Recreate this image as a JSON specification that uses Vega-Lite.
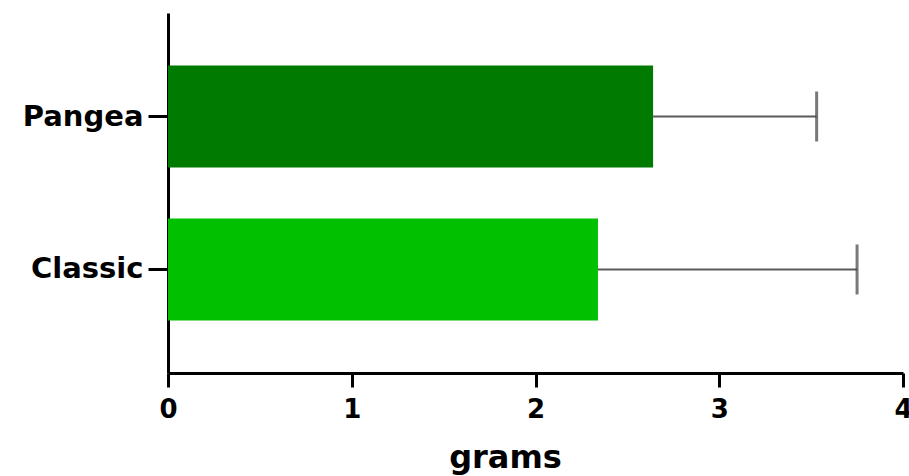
{
  "$schema": "https://vega.github.io/schema/vega-lite/v6.json",
  "width": 735,
  "height": 360,
  "autosize": "none",
  "padding": {"left": 168, "top": 13, "right": 6, "bottom": 103},
  "background": "white",
  "config": {
    "view": {"stroke": null},
    "axis": {
      "domainColor": "black",
      "domainWidth": 3,
      "tickColor": "black",
      "tickWidth": 3,
      "grid": false,
      "labelFont": "DejaVu Sans",
      "labelFontWeight": "bold",
      "labelColor": "black",
      "titleFont": "DejaVu Sans",
      "titleFontWeight": "bold",
      "titleColor": "black"
    }
  },
  "data": {
    "values": [
      {"group": "Pangea", "mean": 2.64, "upper": 3.53},
      {"group": "Classic", "mean": 2.34, "upper": 3.75}
    ]
  },
  "encoding": {
    "y": {
      "field": "group",
      "type": "nominal",
      "sort": ["Pangea", "Classic"],
      "scale": {"paddingInner": 0.333, "paddingOuter": 0.343},
      "axis": {"title": null, "tickSize": 20, "labelFontSize": 29, "labelPadding": 5}
    }
  },
  "layer": [
    {
      "mark": {"type": "bar"},
      "encoding": {
        "x": {
          "field": "mean",
          "type": "quantitative",
          "scale": {"domain": [0, 4], "nice": false},
          "axis": {
            "values": [0, 1, 2, 3, 4],
            "format": "d",
            "tickSize": 14,
            "labelFontSize": 26,
            "labelPadding": 9,
            "labelFlush": false,
            "title": "grams",
            "titleFontSize": 32,
            "titlePadding": 20,
            "titleX": 337
          }
        },
        "color": {
          "field": "group",
          "type": "nominal",
          "scale": {"domain": ["Pangea", "Classic"], "range": ["#007A00", "#00C000"]},
          "legend": null
        }
      }
    },
    {
      "mark": {"type": "rule", "color": "#5a5a5a", "strokeWidth": 2},
      "encoding": {
        "x": {"field": "mean", "type": "quantitative"},
        "x2": {"field": "upper"}
      }
    },
    {
      "mark": {"type": "tick", "color": "#404040", "thickness": 3, "size": 50},
      "encoding": {
        "x": {"field": "upper", "type": "quantitative"}
      }
    }
  ]
}
